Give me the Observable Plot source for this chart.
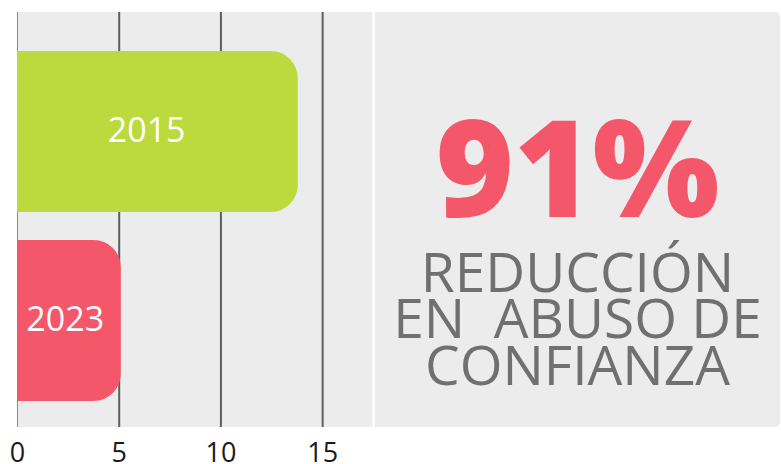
<!DOCTYPE html>
<html>
<head>
<meta charset="utf-8">
<script src="https://cdn.jsdelivr.net/npm/d3@7"></script>
<script src="https://cdn.jsdelivr.net/npm/@observablehq/plot@0.6"></script>
<style>
  html, body { margin: 0; padding: 0; background: #ffffff; }
  #wrap { position: relative; width: 781px; height: 464px; }
  #panel { position: absolute; left: 17px; top: 12px; width: 763px; height: 415px;
           background: #ececec; border-radius: 0 5px 5px 0; }
  #chart { position: absolute; left: 0; top: 0; }
</style>
</head>
<body>
<div id="wrap"><div id="panel"></div><div id="chart"></div></div>
<script>
// Data
const years = ["2015", "2023"];
const values = [13.8, 5.1];
const barColors = ["#bcd93e", "#f45769"];
const xTicks = [0, 5, 10, 15];
const xMax = 17.5;
const headline = "91%";
const subtitleLines = ["REDUCCIÓN", "EN\u00A0 ABUSO DE", "CONFIANZA"];

const data = years.map((y, i) => ({year: y, value: values[i], color: barColors[i]}));

const plot = Plot.plot({
  width: 781,
  height: 464,
  marginLeft: 17,
  marginRight: 408,
  marginTop: 12,
  marginBottom: 37,
  style: {background: "transparent", fontFamily: "'Open Sans', sans-serif", overflow: "visible"},
  x: {domain: [0, xMax], axis: null},
  y: {domain: years, axis: null, paddingInner: 0.148, paddingOuter: 0.169, align: 0.594},
  marks: [
    Plot.ruleX([xTicks[0]], {stroke: "#8a8a8a", strokeWidth: 1}),
    Plot.ruleX(xTicks.slice(1), {stroke: "#5e5e5e", strokeWidth: 2}),
    Plot.ruleX([xMax], {stroke: "#ffffff", strokeWidth: 2.5}),
    Plot.barX(data, {x1: 0, x2: "value", y: "year", fill: "color", rx: 27, insetLeft: -40, clip: true}),
    Plot.text(data, {x: d => d.value * 0.46, y: "year", text: "year", fill: "#ffffff", fontSize: 34, dy: -1}),
    Plot.axisX({ticks: xTicks, tickSize: 0, tickPadding: 15, fontSize: 27, fill: "#1a1a1a", label: null, tickFormat: d => String(d)}),
    Plot.text([headline], {frameAnchor: "top-right", dx: 204, dy: 109, lineAnchor: "top", textAnchor: "middle",
      fontSize: 134, fontWeight: 800, fill: "#f45769"}),
    Plot.text([subtitleLines.join("\n")], {frameAnchor: "top-right", dx: 204, dy: 246, lineAnchor: "top", textAnchor: "middle",
      fontSize: 55, lineHeight: 0.85, fill: "#707070"})
  ]
});
document.getElementById("chart").appendChild(plot);
</script>
</body>
</html>
